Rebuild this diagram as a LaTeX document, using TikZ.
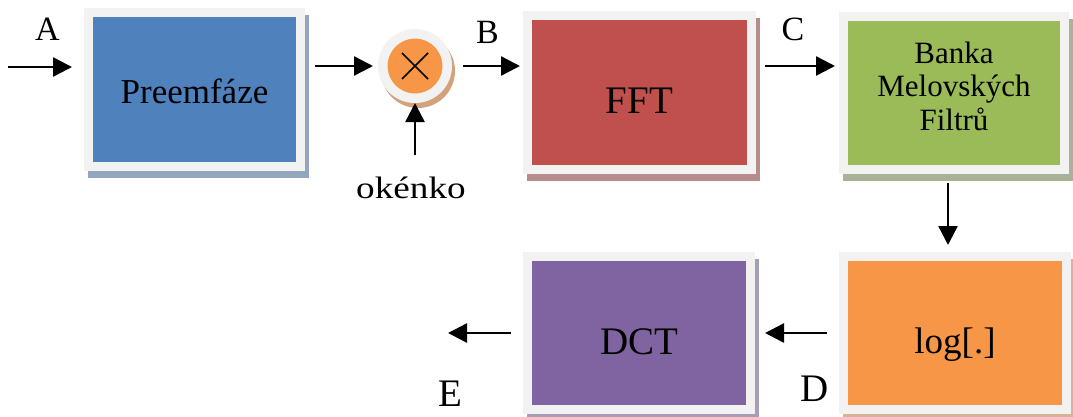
\documentclass[tikz,border=0pt]{standalone}
\usepackage{fontspec}
\usepackage{graphicx}
\setmainfont{Liberation Serif}
\usetikzlibrary{arrows.meta,backgrounds}
\definecolor{frame}{HTML}{F2F2F2}
\definecolor{blueC}{HTML}{4F81BD}
\definecolor{redC}{HTML}{C0504D}
\definecolor{greenC}{HTML}{9BBB59}
\definecolor{purpleC}{HTML}{8064A2}
\definecolor{orangeC}{HTML}{F79646}
\definecolor{shBlue}{HTML}{94A6BD}
\definecolor{shRed}{HTML}{B68C8C}
\definecolor{shGreen}{HTML}{A9B196}
\definecolor{shPurple}{HTML}{A79EB5}
\definecolor{shOrange}{HTML}{D8B394}
\definecolor{shMul}{HTML}{D3A17C}
\begin{document}
\begin{tikzpicture}[x=1pt,y=-1pt,
  blk/.style={draw=frame, line width=9pt, inner sep=0pt, outer sep=4.5pt},
  arr/.style={draw=black, line width=2.5pt, -{Triangle[length=19pt,width=19pt]}},
  lbl/.style={inner sep=0pt, outer sep=0pt}]
\useasboundingbox (0,0) rectangle (1073,416);

% blocks
\node[blk, fill=blueC, minimum width=212pt, minimum height=154pt] (pre) at (194.5,89.5)
  {\fontsize{35}{40}\selectfont\raisebox{-13.5pt}[0pt][0pt]{Preemfáze}};
\node[blk, fill=redC, minimum width=224pt, minimum height=154pt] (fft) at (639.5,92.5)
  {\fontsize{39}{44}\selectfont\raisebox{-20.5pt}[0pt][0pt]{FFT}};
\node[blk, fill=greenC, minimum width=221pt, minimum height=153pt] (ban) at (954,93)
  {\fontsize{31}{33.5}\selectfont\raisebox{30pt}[0pt][0pt]{\begin{tabular}[t]{@{}c@{}}Banka\\Melovských\\Filtrů\end{tabular}}};
\node[blk, fill=purpleC, minimum width=223pt, minimum height=153pt] (dct) at (639,333)
  {\fontsize{39}{44}\selectfont\raisebox{-21pt}[0pt][0pt]{DCT}};
\node[blk, fill=orangeC, minimum width=223pt, minimum height=153pt] (log) at (955,333)
  {\fontsize{37}{42}\selectfont\raisebox{-20pt}[0pt][0pt]{log[.]}};

% multiplier
\node[circle, draw=frame, fill=orangeC, line width=9.5pt, inner sep=0pt, outer sep=4.75pt,
  minimum size=64.5pt] (mul) at (415,66) {};
\draw[line width=1.6pt] ([shift={(-13,-13)}]mul.center) -- ([shift={(13,13)}]mul.center);
\draw[line width=1.6pt] ([shift={(-13,13)}]mul.center) -- ([shift={(13,-13)}]mul.center);

% shadows and background
\begin{scope}[on background layer]
  \fill[white] (0,0) rectangle (1073,416);
  \foreach \n/\c in {pre/shBlue, fft/shRed, ban/shGreen, dct/shPurple, log/shOrange}
    \fill[\c] ([shift={(4,7)}]\n.north west) rectangle ([shift={(4,7)}]\n.south east);
  \fill[shMul] ([shift={(3,5)}]mul.center) circle[radius=37];
\end{scope}

% labels
\node[lbl] (la) at (47.5,29) {\fontsize{34}{38}\selectfont A};
\node[lbl] (lb) at (487.5,32) {\fontsize{34}{38}\selectfont B};
\node[lbl] (lc) at (793,29) {\fontsize{34}{38}\selectfont C};
\node[lbl] (ld) at (814.5,389) {\fontsize{39}{44}\selectfont D};
\node[lbl] (le) at (450.5,394) {\fontsize{39}{44}\selectfont E};
\node[lbl, anchor=base] (ok) at (411,198) {\fontsize{31}{36}\selectfont\scalebox{1.2}[1]{okénko}};

% connectors
\coordinate (a0) at (8,67);
\coordinate (e0) at (448,333);
\draw[arr, shorten >=12pt] (a0) -- (a0 -| pre.west);
\draw[arr, shorten <=10pt, shorten >=5pt] (pre.east |- mul.west) -- (mul.west);
\draw[arr, shorten <=11pt, shorten >=3pt] (mul.east) -- (mul.east -| fft.west);
\draw[arr, shorten <=21pt] (ok.north -| mul.south) -- (mul.south);
\draw[arr, shorten <=9pt, shorten >=4pt] (fft.east |- mul.center) -- (mul.center -| ban.west);
\draw[arr, shorten <=9pt, shorten >=7pt] ([xshift=-6pt]ban.south) -- ([xshift=-6pt]ban.south |- log.north);
\draw[arr, shorten <=12pt, shorten >=10pt] (log.west) -- (log.west -| dct.east);
\draw[arr, shorten <=12pt] (dct.west) -- (e0);
\end{tikzpicture}
\end{document}
